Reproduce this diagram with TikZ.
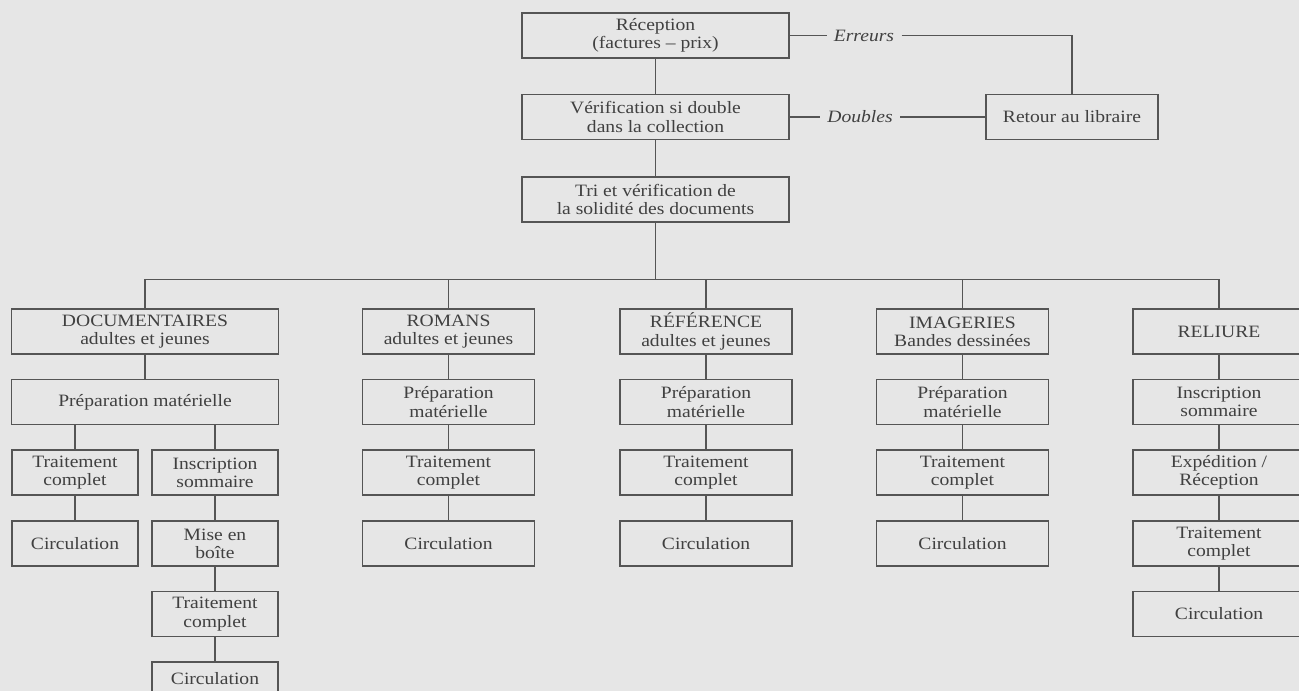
\documentclass[tikz,border=0pt]{standalone}
\usepackage{fontspec}
\setmainfont[FakeStretch=1.13]{Liberation Serif}
\usepackage{tikz}
\definecolor{pageGray}{HTML}{E6E6E6}
\definecolor{inkGray}{HTML}{555555}
\definecolor{textGray}{HTML}{404040}
\newcommand{\boxHeight}[0]{33.75pt}
\newcommand{\boxFont}[0]{\fontsize{13}{13.7}\selectfont}

\begin{document}
\begin{tikzpicture}[x=0.75pt, y=-0.75pt, line width=1.1pt, color=inkGray]
  \tikzset{every node/.style={text=textGray, font=\boxFont},
    stage/.style={draw=inkGray, align=center, inner sep=0pt, minimum height=\boxHeight},
    wideBox/.style={stage, minimum width=200pt},
    midBox/.style={stage, minimum width=129pt},
    smallBox/.style={stage, minimum width=94.5pt},
    tag/.style={inner xsep=5pt, inner ysep=0pt, font=\boxFont\itshape}}
  \fill[pageGray] (0,0) rectangle (1299,691);
  \clip (0,0) rectangle (1299,691);
  \node[wideBox] (rec) at (655.5,35.5) {Réception\\(factures – prix)};
  \node[wideBox] (ver) at (655.5,117) {Vérification si double\\dans la collection};
  \node[wideBox] (tri) at (655.5,199.5) {Tri et vérification de\\la solidité des documents};
  \node[midBox] (ret) at (1072,117) {Retour au libraire};
  \node[tag] (err) at (864,35.5) {Erreurs};
  \node[tag] (dbl) at (860,117) {Doubles};
  \node[wideBox] (doc) at (145,331.5) {DOCUMENTAIRES\\adultes et jeunes};
  \node[midBox] (rom) at (448.5,331.5) {ROMANS\\adultes et jeunes};
  \node[midBox] (ref) at (706,331.5) {RÉFÉRENCE\\adultes et jeunes};
  \node[midBox] (ima) at (962.5,331.5) {IMAGERIES\\Bandes dessinées};
  \node[midBox] (rel) at (1219,331.5) {RELIURE};
  \node[wideBox] (docPrep) at (145,402) {Préparation matérielle};
  \node[midBox] (romPrep) at (448.5,402) {Préparation\\matérielle};
  \node[midBox] (refPrep) at (706,402) {Préparation\\matérielle};
  \node[midBox] (imaPrep) at (962.5,402) {Préparation\\matérielle};
  \node[midBox] (relIns) at (1219,402) {Inscription\\sommaire};
  \node[smallBox] (docTrt) at (75,472.5) {Traitement\\complet};
  \node[smallBox] (docIns) at (215,472.5) {Inscription\\sommaire};
  \node[midBox] (romTrt) at (448.5,472.5) {Traitement\\complet};
  \node[midBox] (refTrt) at (706,472.5) {Traitement\\complet};
  \node[midBox] (imaTrt) at (962.5,472.5) {Traitement\\complet};
  \node[midBox] (relExp) at (1219,472.5) {Expédition /\\Réception};
  \node[smallBox] (docCirc) at (75,543.5) {Circulation};
  \node[smallBox] (docBox) at (215,543.5) {Mise en\\boîte};
  \node[midBox] (romCirc) at (448.5,543.5) {Circulation};
  \node[midBox] (refCirc) at (706,543.5) {Circulation};
  \node[midBox] (imaCirc) at (962.5,543.5) {Circulation};
  \node[midBox] (relTrt) at (1219,543.5) {Traitement\\complet};
  \node[smallBox] (docTrtB) at (215,614) {Traitement\\complet};
  \node[midBox] (relCirc) at (1219,614) {Circulation};
  \node[smallBox, minimum height=25.5pt] (docCircB) at (215,679) {Circulation};
  \draw (rec) -- (ver) -- (tri);
  \draw (rec) -- (err);
  \draw (err) -| (ret);
  \draw (ver) -- (dbl) -- (ret);
  \draw (tri.south) -- ++(0,57) coordinate (hub);
  \draw (doc.north) |- (hub) -| (rel.north);
  \draw (rom.north) -- (rom.north |- hub);
  \draw (ref.north) -- (ref.north |- hub);
  \draw (ima.north) -- (ima.north |- hub);
  \draw (doc) -- (docPrep);
  \draw (docPrep.south -| docTrt) -- (docTrt);
  \draw (docPrep.south -| docIns) -- (docIns);
  \draw (docTrt) -- (docCirc);
  \draw (docIns) -- (docBox) -- (docTrtB) -- (docCircB);
  \draw (rom) -- (romPrep) -- (romTrt) -- (romCirc);
  \draw (ref) -- (refPrep) -- (refTrt) -- (refCirc);
  \draw (ima) -- (imaPrep) -- (imaTrt) -- (imaCirc);
  \draw (rel) -- (relIns) -- (relExp) -- (relTrt) -- (relCirc);
\end{tikzpicture}
\end{document}
